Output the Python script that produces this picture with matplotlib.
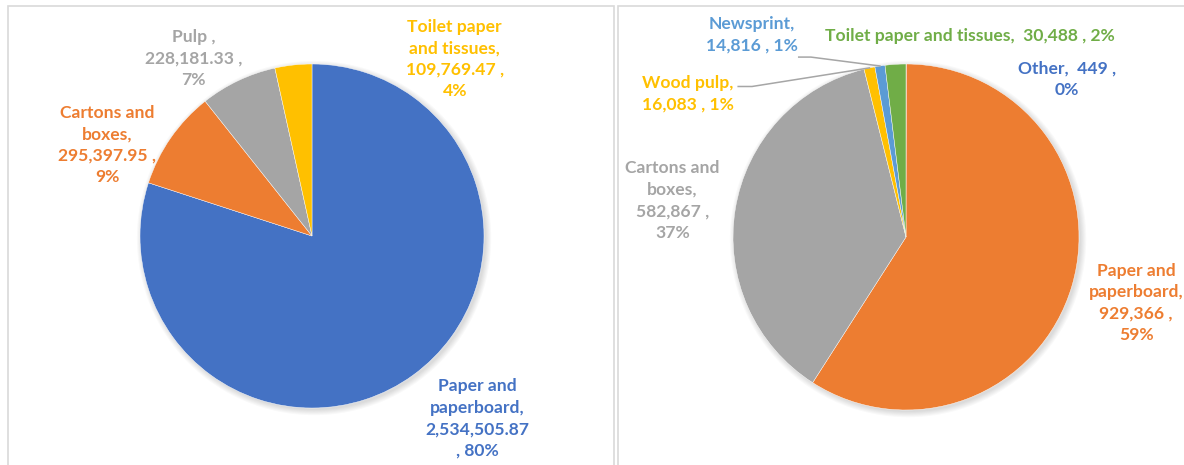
import numpy as np
import matplotlib
matplotlib.use("Agg")
import matplotlib.pyplot as plt
from matplotlib.patches import Rectangle, Circle

# left pie
left_categories = ["Paper and paperboard", "Cartons and boxes", "Pulp", "Toilet paper and tissues"]
left_values = [2534505.87, 295397.95, 228181.33, 109769.47]
left_colors = ["#4472C4", "#ED7D31", "#A5A5A5", "#FFC000"]
left_formats = [
    "Paper and\npaperboard,\n{v}\n, {p}%",
    "Cartons and\nboxes,\n{v} ,\n{p}%",
    "Pulp ,\n{v} ,\n{p}%",
    "Toilet paper\nand tissues,\n{v} ,\n{p}%",
]

# right pie
right_categories = ["Other", "Paper and paperboard", "Cartons and boxes",
                    "Wood pulp", "Newsprint", "Toilet paper and tissues"]
right_values = [449, 929366, 582867, 16083, 14816, 30488]
right_colors = ["#4472C4", "#ED7D31", "#A5A5A5", "#FFC000", "#5B9BD5", "#70AD47"]
right_formats = [
    "Other,  {v} ,\n{p}%",
    "Paper and\npaperboard,\n{v} ,\n{p}%",
    "Cartons and\nboxes,\n{v} ,\n{p}%",
    "Wood pulp,\n{v} , {p}%",
    "Newsprint,\n{v} , {p}%",
    "Toilet paper and tissues,  {v} , {p}%",
]

W, H = 1184, 465
FONT = ["Lato", "DejaVu Sans"]
FS = 12.6
LS = 1.42


def whole_percents(values):
    # percentages rounded so that they still add up to 100
    v = np.asarray(values, dtype=float)
    raw = v / v.sum() * 100
    base = np.floor(raw).astype(int)
    short = 100 - base.sum()
    order = np.argsort(-(raw - base))
    base[order[:short]] += 1
    return base


def draw_pie(fig, values, colors, cx, cy, r, x0, x1):
    # axes covering a panel, scaled so one data unit = r pixels both ways
    ax = fig.add_axes([x0 / W, 0, (x1 - x0) / W, 1])
    # faint drop shadow
    for k in range(6):
        ax.add_patch(Circle((0.012, -0.012), 1.0 + 0.006 * k, color="black",
                            alpha=0.025, lw=0, zorder=0))
    wedges, _ = ax.pie(values, colors=colors, startangle=90, counterclock=False,
                       wedgeprops=dict(linewidth=0.3, edgecolor="white"))
    for w in wedges:
        w.set_zorder(1)
    ax.set_aspect("auto")
    ax.set_xlim((x0 - cx) / r, (x1 - cx) / r)
    ax.set_ylim((cy - H) / r, cy / r)
    ax.axis("off")
    return ax, wedges


fig = plt.figure(figsize=(W / 100, H / 100), dpi=100)

# panel frames
fig.add_artist(Rectangle((8 / W, -0.1), 606 / W, 1.1 - 6 / H, transform=fig.transFigure,
                         fill=False, edgecolor="#D9D9D9", lw=1.2))
fig.add_artist(Rectangle((618 / W, -0.1), 0.5, 1.1 - 6 / H, transform=fig.transFigure,
                         fill=False, edgecolor="#D9D9D9", lw=1.2))

# ---- left chart ----
axl, _ = draw_pie(fig, left_values, left_colors, 312, 236, 172, 8, 614)
pl = whole_percents(left_values)
left_pos = [(0.96, -1.06), (-1.19, 0.53), (-0.69, 1.03), (0.83, 1.03)]
for fmt, val, p, col, (x, y) in zip(left_formats, left_values, pl, left_colors, left_pos):
    axl.text(x, y, fmt.format(v=f"{val:,.2f}", p=p), color=col, ha="center", va="center",
             fontsize=FS, fontweight="bold", family=FONT, linespacing=LS)

# ---- right chart ----
axr, wedges = draw_pie(fig, right_values, right_colors, 906, 237, 173, 618, 1184)
pr = whole_percents(right_values)
right_pos = [(0.93, 0.91), (1.33, -0.38), (-1.35, 0.21), (-1.26, 0.83), (-0.89, 1.17), (0.37, 1.16)]
for fmt, val, p, col, (x, y) in zip(right_formats, right_values, pr, right_colors, right_pos):
    axr.text(x, y, fmt.format(v=f"{val:,}", p=p), color=col, ha="center", va="center",
             fontsize=FS, fontweight="bold", family=FONT, linespacing=LS)

# leader lines for the two thin slices
for i, (sx, sy), (hx, hy) in [(3, (-0.97, 0.87), (-0.89, 0.87)),
                              (4, (-0.62, 1.04), (-0.55, 1.04))]:
    w = wedges[i]
    mid = np.deg2rad((w.theta1 + w.theta2) / 2)
    px, py = np.cos(mid), np.sin(mid)
    axr.plot([sx, hx, px], [sy, hy, py], color="#A6A6A6", lw=1.1, zorder=2)

fig.savefig("out.png", dpi=100, facecolor="white")
